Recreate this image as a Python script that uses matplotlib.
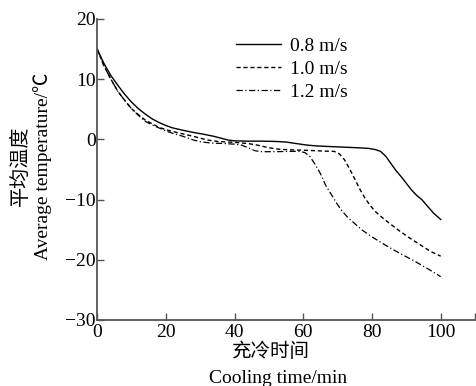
import matplotlib.pyplot as plt

plt.rcParams['font.family'] = ['Liberation Serif', 'Noto Sans CJK SC']
plt.rcParams['axes.unicode_minus'] = True

# cooling time (min) and average temperature (C)
t_08 = [0, 2, 4, 6, 8, 10, 12, 14, 16, 18, 20, 22, 25, 28, 31, 34, 36, 38, 40, 44, 48,
        52, 55, 58, 61, 64, 68, 72, 76, 79, 81, 82.5, 84, 85.5, 87, 88.5, 90, 91.5, 93,
        94.5, 96, 98, 100]
T_08 = [15, 12.6, 10.6, 9.0, 7.5, 6.2, 5.1, 4.2, 3.4, 2.8, 2.3, 1.9, 1.5, 1.15, 0.85, 0.5,
        0.2, -0.1, -0.25, -0.3, -0.3, -0.35, -0.45, -0.7, -0.95, -1.1, -1.2, -1.3, -1.4,
        -1.5, -1.7, -2.0, -2.8, -4.0, -5.2, -6.2, -7.3, -8.4, -9.3, -10.0, -11.0, -12.3, -13.3]

t_10 = [0, 2, 4, 6, 8, 10, 12, 14, 16, 18, 20, 22, 25, 28, 30, 32, 35, 40, 44, 47, 50,
        53, 57, 62, 66, 69, 70.5, 72, 73.5, 75, 76.5, 78, 79.5, 81, 83, 85, 88, 91, 94,
        97, 100]
T_10 = [15, 12.2, 10.0, 8.0, 6.5, 5.1, 4.1, 3.2, 2.6, 2.0, 1.6, 1.3, 0.9, 0.5, 0.2, -0.1,
        -0.35, -0.5, -0.7, -1.0, -1.4, -1.65, -1.75, -1.85, -1.95, -2.0, -2.4, -3.4, -4.9,
        -6.6, -8.3, -9.8, -11.0, -12.0, -13.0, -13.9, -15.2, -16.4, -17.5, -18.6, -19.4]

t_12 = [0, 2, 4, 6, 8, 10, 12, 14, 16, 18, 20, 22, 25, 28, 30, 33, 37, 40, 42, 44, 46,
        48, 52, 56, 59, 60.5, 62, 63.5, 65, 66.5, 68, 69.5, 71, 73, 75, 77, 80, 84, 88,
        92, 96, 100]
T_12 = [15, 12.2, 10.0, 8.0, 6.5, 5.1, 4.0, 3.0, 2.4, 1.9, 1.4, 1.0, 0.5, -0.1, -0.4,
        -0.6, -0.7, -0.8, -0.95, -1.4, -1.9, -2.05, -2.05, -2.0, -2.0, -2.2, -2.9, -4.2,
        -5.7, -7.6, -9.0, -10.4, -11.7, -13.0, -14.0, -15.0, -16.2, -17.6, -18.9, -20.1,
        -21.4, -22.8]

labels = ['0.8 m/s', '1.0 m/s', '1.2 m/s']
x_ticks = [0, 20, 40, 60, 80, 100, 110]
x_ticklabels = ['0', '20', '40', '60', '80', '100', '']
y_ticks = [20, 10, 0, -10, -20, -30]

fig = plt.figure(figsize=(4.76, 3.86), dpi=100)
ax = fig.add_axes([0.204, 0.171, 0.794, 0.780])

ax.plot(t_08, T_08, color='black', lw=1.0, ls='-', label=labels[0])
ax.plot(t_10, T_10, color='black', lw=1.0, ls=(0, (3, 2)), label=labels[1])
ax.plot(t_12, T_12, color='black', lw=0.9, ls=(0, (5, 2, 1, 2)), label=labels[2])

ax.set_xlim(0, 110)
ax.set_ylim(-30, 20)
ax.set_xticks(x_ticks)
ax.set_xticklabels(x_ticklabels)
ax.set_yticks(y_ticks)

for s in ['top', 'right']:
    ax.spines[s].set_visible(False)
for s in ['left', 'bottom']:
    ax.spines[s].set_color('#555555')
    ax.spines[s].set_linewidth(1.3)

ax.tick_params(direction='in', length=5, width=1.0, color='#555555', labelsize=14)
ax.tick_params(axis='x', pad=3)
ax.tick_params(axis='y', pad=1)

# two-line axis titles (Chinese above / English below)
fig.text(271 / 476, 1 - 352 / 386, '充冷时间', fontsize=14, ha='center', va='center')
fig.text(278 / 476, 1 - 383 / 386, 'Cooling time/min', fontsize=14, ha='center',
         va='baseline')
fig.text(21 / 476, 1 - 166 / 386, '平均温度', fontsize=14.5, rotation=90,
         ha='center', va='center')
fig.text(43 / 476, 1 - 166 / 386, 'Average temperature/℃', fontsize=14, rotation=90,
         ha='center', va='center')

ax.legend(loc='upper left', bbox_to_anchor=(0.348, 0.965), frameon=False,
          fontsize=14, handlelength=2.3, handletextpad=0.45, labelspacing=0.28,
          borderaxespad=0)

fig.savefig('out.png', dpi=100)
